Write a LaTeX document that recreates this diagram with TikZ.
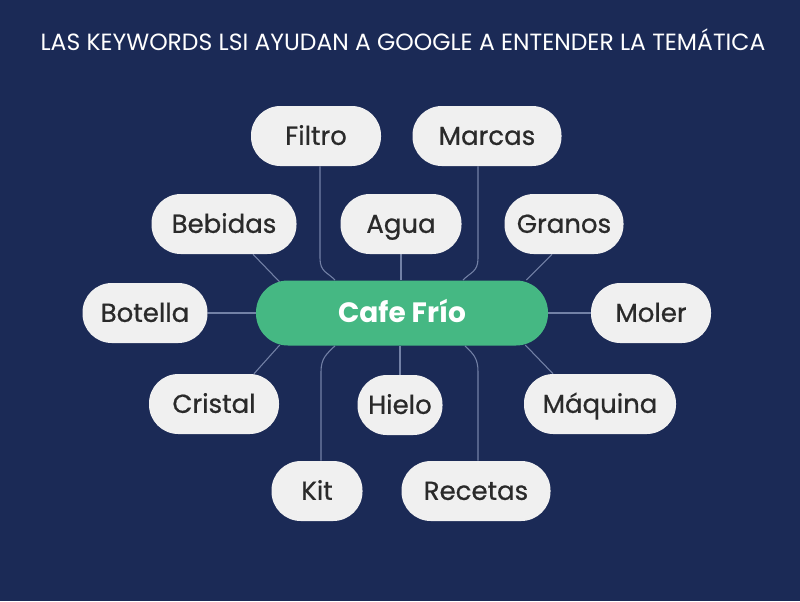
\documentclass[tikz,border=0pt]{standalone}
\usepackage{fontspec}
\setmainfont{Poppins}
\newfontfamily\kwfont[FakeBold=0.7]{Poppins}
\usetikzlibrary{calc,backgrounds}

\definecolor{navy}{HTML}{1B2A56}
\definecolor{leaf}{HTML}{45B883}
\definecolor{pill}{HTML}{F0F0F0}
\definecolor{ink}{HTML}{2A2A2A}
\definecolor{wire}{HTML}{7381A6}

\tikzset{
  kw/.style={fill=pill, text=ink, rounded corners=22pt, minimum height=45pt,
    minimum width=#1, inner sep=0pt, text height=18pt, text depth=4.7pt,
    font=\kwfont\fontsize{19.5}{22}\selectfont},
  link/.style={draw=wire, line width=0.8pt}
}

\begin{document}
\begin{tikzpicture}[x=0.75pt,y=-0.75pt]

  \begin{scope}[on background layer]
    \fill[navy] (0,0) rectangle (800,601);
  \end{scope}
  \useasboundingbox (0,0) rectangle (800,601);

  \node[text=white, font=\fontsize{17.6}{20}\selectfont] (title) at (403,40)
    {LAS KEYWORDS LSI AYUDAN A GOOGLE A ENTENDER LA TEMÁTICA};

  % centre
  \node[fill=leaf, text=white, rounded corners=24pt, minimum height=48.75pt,
    minimum width=219pt, inner sep=0pt, text height=19.5pt, text depth=4.8pt,
    font=\fontsize{21}{24}\selectfont\bfseries] (cafe) at (402,313) {Cafe Frío};

  % keywords
  \node[kw=97.5pt]   (filtro)  at (316,136) {Filtro};
  \node[kw=111.75pt] (marcas)  at (487,136) {Marcas};
  \node[kw=108.75pt] (bebidas) at (224,224) {Bebidas};
  \node[kw=90.75pt]  (agua)    at (401,224) {Agua};
  \node[kw=89.25pt]  (granos)  at (564,224) {Granos};
  \node[kw=93.75pt]  (botella) at (145,313) {Botella};
  \node[kw=90pt]     (moler)   at (651,313) {Moler};
  \node[kw=97.5pt]   (cristal) at (214,404) {Cristal};
  \node[kw=63.75pt]  (hielo)   at (400,405) {Hielo};
  \node[kw=114pt]    (maquina) at (600,404) {Máquina};
  \node[kw=68.25pt]  (kit)     at (317,491) {Kit};
  \node[kw=111.75pt] (recetas) at (476,491) {Recetas};

  \begin{scope}[on background layer]
    \draw[link] (agua.south) -- (agua.south |- cafe.north);
    \draw[link] (hielo.north |- cafe.south) -- (hielo.north);
    \draw[link] (botella.east) -- (cafe.west);
    \draw[link] (cafe.east) -- (moler.west);
    \draw[link] ($(bebidas.south)+(29,0)$) -- ($(cafe.west)+(24,-31)$);
    \draw[link] ($(granos.south)+(-12,0)$) -- ($(cafe.east)+(-22,-33)$);
    \draw[link] ($(cristal.north)+(40,0)$) -- ($(cafe.west)+(24,32)$);
    \draw[link] ($(maquina.north)+(-47,0)$) -- ($(cafe.east)+(-23,32)$);
    % curved ones
    \draw[link] ($(filtro.south)+(4,0)$) -- ($(filtro.south)+(4,92)$)
      .. controls ($(filtro.south)+(4,106)$) and ($(cafe.north)+(-74,-8)$) .. ($(cafe.north)+(-67,0)$);
    \draw[link] ($(marcas.south)+(-9,0)$) -- ($(marcas.south)+(-9,92)$)
      .. controls ($(marcas.south)+(-9,106)$) and ($(cafe.north)+(68,-8)$) .. ($(cafe.north)+(61,0)$);
    \draw[link] ($(cafe.south)+(-67,0)$)
      .. controls ($(cafe.south)+(-75,8)$) and ($(kit.north)+(4,-103)$) .. ($(kit.north)+(4,-89)$)
      -- ($(kit.north)+(4,0)$);
    \draw[link] ($(cafe.south)+(63,0)$)
      .. controls ($(cafe.south)+(71,8)$) and ($(recetas.north)+(2,-103)$) .. ($(recetas.north)+(2,-89)$)
      -- ($(recetas.north)+(2,0)$);
  \end{scope}

\end{tikzpicture}
\end{document}
